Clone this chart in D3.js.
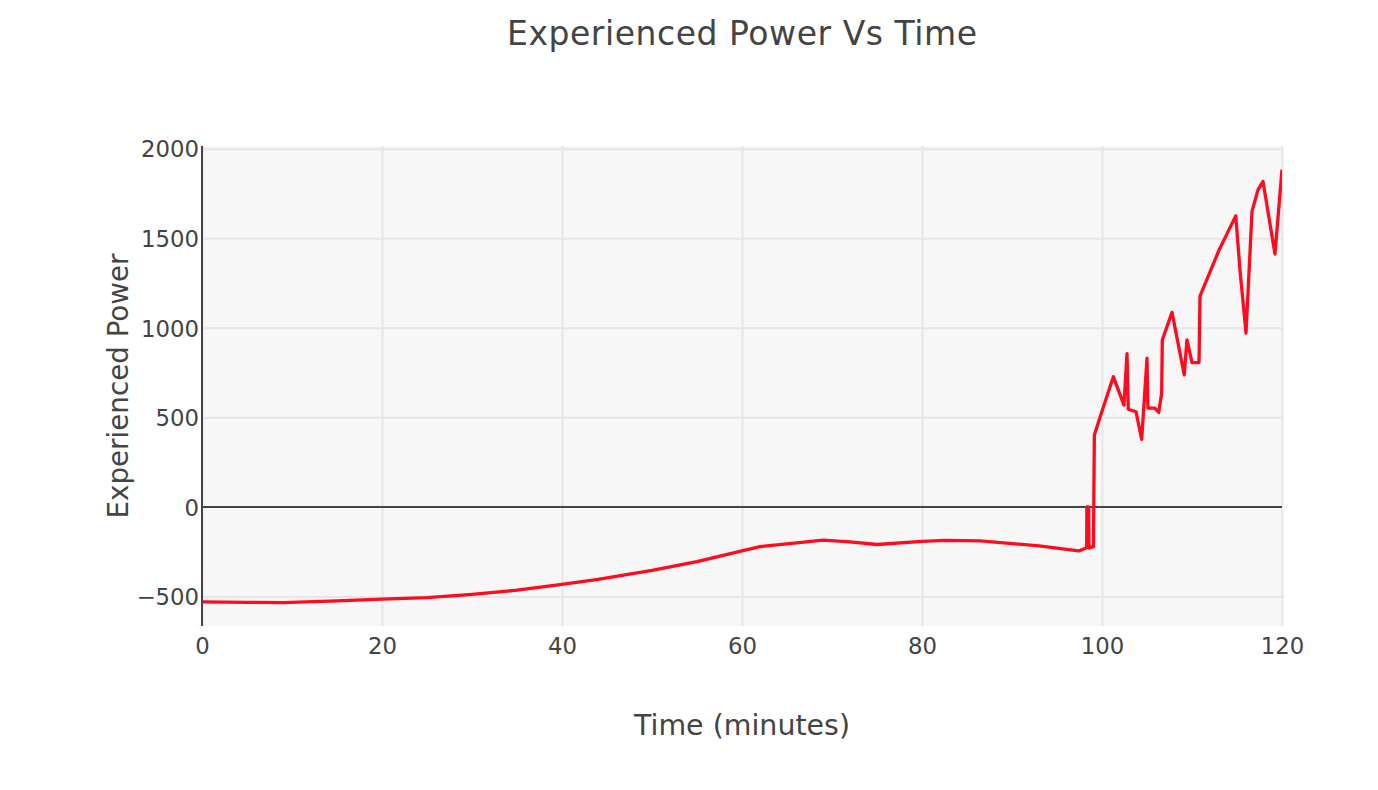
<!DOCTYPE html>
<html>
<head>
<meta charset="utf-8">
<script src="https://cdn.jsdelivr.net/npm/d3@7"></script>
<style>
  html, body { margin: 0; padding: 0; background: #fff; }
  svg { display: block; }
  text { font-family: "DejaVu Sans", Verdana, sans-serif; fill: #444; }
</style>
</head>
<body>
<svg id="chart" width="1378" height="790"></svg>
<script>
// ---- data ----
const times = [0, 5, 9, 15, 20, 25, 30, 35, 40, 44, 50, 55, 60, 62, 65, 69, 72, 75, 80, 82.5, 86.5, 93, 97.4,
  98.3, 98.32, 98.52, 98.55, 99.05, 99.15, 99.78, 101.26, 102.44, 102.78, 102.92, 103.78, 104.41, 105.0, 105.1,
  105.86, 106.3, 106.63, 106.7, 107.78, 109.14, 109.44, 110.0, 110.78, 110.89, 113.0, 114.86, 115.33, 116.0,
  116.67, 117.33, 117.89, 119.22, 120];
const power = [-530, -533, -534, -525, -515, -507, -488, -465, -432, -405, -355, -305, -245, -222, -206, -186, -195, -210, -193, -187, -190, -218, -246,
  -228, 0, 0, -230, -222, 400, 501, 727, 568, 855, 545, 531, 377, 830, 552,
  552, 527, 634, 932, 1086, 737, 932, 806, 806, 1177, 1433, 1625, 1324, 970,
  1650, 1770, 1817, 1412, 1883];
const xTicks = [0, 20, 40, 60, 80, 100, 120];
const yTicks = [-500, 0, 500, 1000, 1500, 2000];
const titleText = "Experienced Power Vs Time";
const xTitle = "Time (minutes)";
const yTitle = "Experienced Power";

// ---- layout ----
const svg = d3.select("#chart");
const L = 202, R = 1282, T = 146, B = 626;
const x = d3.scaleLinear().domain([0, 120]).range([L, R]);
const y = d3.scaleLinear().domain([-665, 2015]).range([B, T]);

// plot background
svg.append("rect").attr("x", L).attr("y", T).attr("width", R - L).attr("height", B - T).attr("fill", "#f7f7f7");

// grid
const gx = svg.append("g").attr("transform", `translate(0,${B})`)
  .call(d3.axisBottom(x).tickValues(xTicks).tickSize(-(B - T)).tickFormat(""));
gx.select(".domain").remove();
gx.selectAll("line").attr("stroke", "#e6e6e6").attr("stroke-width", 2);

const gy = svg.append("g").attr("transform", `translate(${L},0)`)
  .call(d3.axisLeft(y).tickValues(yTicks.filter(d => d !== 0)).tickSize(-(R - L)).tickFormat(""));
gy.select(".domain").remove();
gy.selectAll("line").attr("stroke", "#e6e6e6").attr("stroke-width", 2);

// zero line
svg.append("line").attr("x1", L).attr("x2", R).attr("y1", y(0)).attr("y2", y(0))
  .attr("stroke", "#444").attr("stroke-width", 2);

// data line
const clipId = "plotclip";
svg.append("clipPath").attr("id", clipId).append("rect")
  .attr("x", L).attr("y", T - 2).attr("width", R - L).attr("height", B - T + 4);
svg.append("path")
  .datum(times.map((t, i) => [t, power[i]]))
  .attr("clip-path", `url(#${clipId})`)
  .attr("fill", "none")
  .attr("stroke", "#ff0a1e")
  .attr("stroke-width", 3.3)
  .attr("stroke-linejoin", "round")
  .attr("d", d3.line().x(d => x(d[0])).y(d => y(d[1])));

// left axis line
svg.append("line").attr("x1", L).attr("x2", L).attr("y1", T).attr("y2", B)
  .attr("stroke", "#444").attr("stroke-width", 2);

// tick labels
const fmt = d3.format("d");
const ax = svg.append("g").attr("transform", `translate(0,${B})`)
  .call(d3.axisBottom(x).tickValues(xTicks).tickSize(0).tickPadding(0).tickFormat(fmt));
ax.select(".domain").remove();
ax.selectAll("text").attr("dy", null).attr("y", 27.5).style("font-size", "22.8px").style("font-family", "DejaVu Sans").attr("fill", "#444");

const ay = svg.append("g").attr("transform", `translate(${L},0)`)
  .call(d3.axisLeft(y).tickValues(yTicks).tickSize(0).tickPadding(3).tickFormat(fmt));
ay.select(".domain").remove();
ay.selectAll("text").attr("dy", "0.36em").style("font-size", "22.8px").style("font-family", "DejaVu Sans").attr("fill", "#444");

// titles
svg.append("text").attr("x", (L + R) / 2).attr("y", 45).attr("text-anchor", "middle")
  .attr("textLength", 470).attr("lengthAdjust", "spacing")
  .style("font-size", "33px").text(titleText);
svg.append("text").attr("x", (L + R) / 2).attr("y", 735).attr("text-anchor", "middle")
  .attr("textLength", 216).attr("lengthAdjust", "spacingAndGlyphs")
  .style("font-size", "29px").text(xTitle);
svg.append("text").attr("transform", `translate(128,${(T + B) / 2}) rotate(-90)`).attr("text-anchor", "middle")
  .attr("textLength", 265).attr("lengthAdjust", "spacingAndGlyphs")
  .style("font-size", "29px").text(yTitle);
</script>
</body>
</html>
